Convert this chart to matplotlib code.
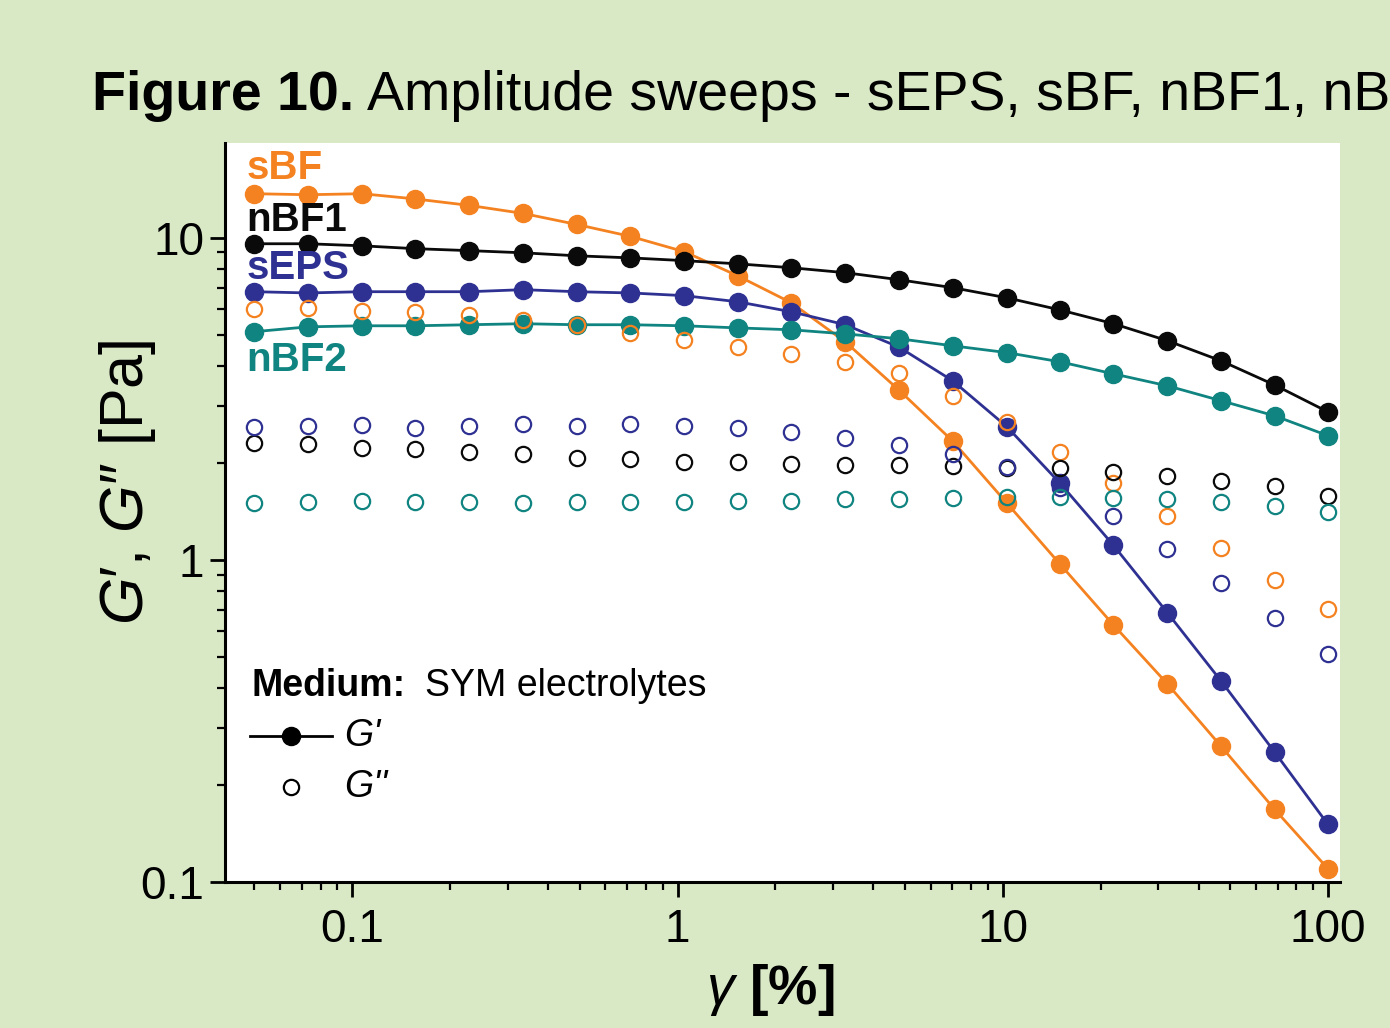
import matplotlib.pyplot as plt
from matplotlib.ticker import NullFormatter

# strain amplitude [%]
strain = [0.05, 0.0731, 0.107, 0.156, 0.229, 0.335, 0.489, 0.716, 1.05, 1.53, 2.24,
          3.28, 4.79, 7.01, 10.3, 15.0, 21.9, 32.1, 46.9, 68.6, 100]

# storage modulus G' [Pa]
sbf_g1 = [13.7, 13.6, 13.7, 13.2, 12.6, 11.9, 11.0, 10.1, 9.05, 7.62, 6.28,
          4.75, 3.37, 2.34, 1.50, 0.97, 0.628, 0.412, 0.264, 0.168, 0.110]
nbf1_g1 = [9.58, 9.58, 9.44, 9.25, 9.12, 8.98, 8.79, 8.66, 8.49, 8.30, 8.07,
           7.79, 7.41, 7.00, 6.51, 5.97, 5.41, 4.79, 4.15, 3.49, 2.88]
seps_g1 = [6.80, 6.74, 6.80, 6.80, 6.80, 6.90, 6.80, 6.74, 6.61, 6.33, 5.89,
           5.37, 4.58, 3.60, 2.59, 1.73, 1.11, 0.685, 0.421, 0.253, 0.151]
nbf2_g1 = [5.11, 5.29, 5.33, 5.33, 5.37, 5.41, 5.37, 5.37, 5.33, 5.25, 5.18,
           5.03, 4.86, 4.62, 4.40, 4.12, 3.78, 3.47, 3.12, 2.80, 2.43]

# loss modulus G'' [Pa]
sbf_g2 = [6.02, 6.06, 5.93, 5.89, 5.77, 5.56, 5.37, 5.07, 4.82, 4.59, 4.36,
          4.12, 3.81, 3.23, 2.68, 2.17, 1.73, 1.37, 1.09, 0.867, 0.705]
nbf1_g2 = [2.31, 2.29, 2.23, 2.21, 2.17, 2.13, 2.07, 2.06, 2.02, 2.02, 1.99,
           1.97, 1.97, 1.96, 1.93, 1.93, 1.88, 1.82, 1.76, 1.69, 1.58]
seps_g2 = [2.59, 2.61, 2.63, 2.57, 2.61, 2.64, 2.61, 2.64, 2.61, 2.57, 2.50,
           2.39, 2.28, 2.13, 1.94, 1.67, 1.37, 1.08, 0.85, 0.66, 0.51]
nbf2_g2 = [1.50, 1.51, 1.52, 1.51, 1.51, 1.50, 1.51, 1.51, 1.51, 1.52, 1.52,
           1.54, 1.55, 1.56, 1.57, 1.57, 1.56, 1.54, 1.51, 1.47, 1.41]

names = ['sBF', 'nBF1', 'sEPS', 'nBF2']
colors = ['#f58220', '#0a0a0a', '#2e3192', '#108480']
g1_all = [sbf_g1, nbf1_g1, seps_g1, nbf2_g1]
g2_all = [sbf_g2, nbf1_g2, seps_g2, nbf2_g2]

y_ticks = [0.1, 1, 10]
y_ticklabels = ['0.1', '1', '10']
x_ticks = [0.1, 1, 10, 100]
x_ticklabels = ['0.1', '1', '10', '100']

bg = '#d9e9c6'
plt.rcParams['font.family'] = ['Liberation Sans', 'DejaVu Sans']
plt.rcParams['mathtext.fontset'] = 'custom'
plt.rcParams['mathtext.rm'] = 'Liberation Sans'
plt.rcParams['mathtext.it'] = 'Liberation Sans:italic'
plt.rcParams['mathtext.bf'] = 'Liberation Sans:bold'

fig = plt.figure(figsize=(13.9, 10.28), dpi=100, facecolor=bg)
ax = fig.add_axes([0.1619, 0.142, 0.8022, 0.719])
ax.set_facecolor('white')
ax.set_xscale('log')
ax.set_yscale('log')

for g1, col in zip(g1_all, colors):
    ax.plot(strain, g1, '-o', color=col, lw=2.0, ms=13, zorder=3)
for g2, col in zip(g2_all, colors):
    ax.plot(strain, g2, 'o', mfc='none', mec=col, mew=1.6, ms=11, zorder=4)

ax.set_xlim(0.0406, 109)
ax.set_ylim(0.1, 19.7)

ax.set_xticks(x_ticks, x_ticklabels)
ax.set_yticks(y_ticks, y_ticklabels)
ax.xaxis.set_minor_formatter(NullFormatter())
ax.yaxis.set_minor_formatter(NullFormatter())
ax.tick_params(which='major', length=11, width=2, direction='out', labelsize=33)
ax.tick_params(which='minor', length=6, width=1.6, direction='out')
ax.tick_params(axis='x', which='major', pad=8)
ax.tick_params(axis='y', which='major', pad=4)

for s in ['top', 'right']:
    ax.spines[s].set_visible(False)
for s in ['left', 'bottom']:
    ax.spines[s].set_linewidth(2.2)

# series labels
label_y = [0.966, 0.896, 0.831, 0.706]
for name, col, yy in zip(names, colors, label_y):
    ax.text(0.019, yy, name, transform=ax.transAxes, color=col, fontsize=29,
            fontweight='bold', va='center', ha='left')

# legend block
ax.text(0.024, 0.265, 'Medium:', transform=ax.transAxes, fontsize=27,
        fontweight='bold', va='center', ha='left')
ax.text(0.179, 0.265, 'SYM electrolytes', transform=ax.transAxes, fontsize=27,
        va='center', ha='left')
ax.plot([0.022, 0.059, 0.096], [0.197, 0.197, 0.197], '-o', color='black', lw=2.0,
        ms=13, markevery=[1], transform=ax.transAxes, clip_on=False)
ax.text(0.107, 0.197, "G'", transform=ax.transAxes, fontsize=27, style='italic',
        va='center', ha='left')
ax.plot([0.059], [0.129], 'o', mfc='none', mec='black', mew=1.6, ms=11,
        transform=ax.transAxes, clip_on=False)
ax.text(0.107, 0.129, "G''", transform=ax.transAxes, fontsize=27, style='italic',
        va='center', ha='left')

# axis labels
fig.text(0.554, 0.037, r'$\gamma$ [%]', fontsize=40, fontweight='bold',
         ha='center', va='center')
fig.text(0.092, 0.531, r'$G$′, $G$″ [Pa]', fontsize=44, rotation=90,
         ha='center', va='center')

# title (cut at the right edge like the original)
fig.text(0.066, 0.893, 'Figure 10.', fontsize=40, fontweight='bold', ha='left', va='baseline')
fig.text(0.264, 0.893, 'Amplitude sweeps - sEPS, sBF, nBF1, nBF2', fontsize=40,
         ha='left', va='baseline')

fig.savefig('out.png', dpi=100, facecolor=bg)
